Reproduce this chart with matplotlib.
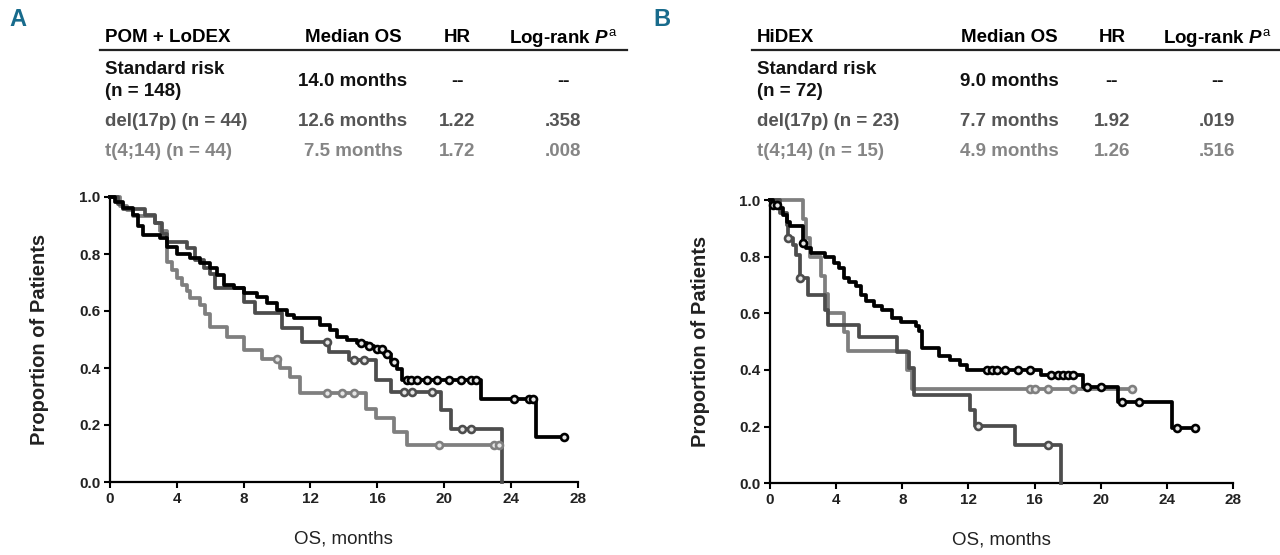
"""Kaplan-Meier OS curves by cytogenetic risk, POM + LoDEX (A) vs HiDEX (B)."""

import numpy as np
import matplotlib

matplotlib.use("Agg")
import matplotlib.pyplot as plt
from matplotlib import font_manager
from matplotlib.lines import Line2D

W, H = 1280, 555

_names = {f.name for f in font_manager.fontManager.ttflist}
FONT = "Liberation Sans Narrow" if "Liberation Sans Narrow" in _names else "Liberation Sans"
plt.rcParams["font.family"] = [FONT, "DejaVu Sans"]
plt.rcParams["mathtext.fontset"] = "custom"
plt.rcParams["mathtext.it"] = f"{FONT}:italic:bold"
plt.rcParams["mathtext.rm"] = f"{FONT}"

# ---- data ---------------------------------------------------------------
# Panel A, POM + LoDEX
a_std_t = [0.0, 0.3, 0.8, 1.4, 1.7, 2.0, 3.0, 3.4, 4.0, 4.8, 5.4, 6.0, 6.4, 6.8, 7.4, 8.0, 8.8,
           9.4, 10.0, 10.6, 11.0, 12.6, 13.2, 13.6, 14.2, 14.8, 15.4, 15.8, 16.4, 16.8, 17.2,
           17.5, 22.2, 25.5]
a_std_s = [1.0, 0.983, 0.96, 0.937, 0.90, 0.867, 0.857, 0.826, 0.80, 0.785, 0.767, 0.75, 0.726,
           0.69, 0.68, 0.663, 0.65, 0.628, 0.603, 0.586, 0.574, 0.55, 0.533, 0.51, 0.498, 0.488,
           0.478, 0.468, 0.45, 0.42, 0.395, 0.357, 0.291, 0.158]
a_std_end = 27.2
a_std_cens = [15.0, 15.5, 16.0, 16.3, 16.6, 17.0, 17.8, 18.0, 18.4, 19.0, 19.6, 20.3, 21.0,
              21.6, 21.9, 24.2, 25.1, 25.3, 27.2]

a_del_t = [0.0, 0.5, 0.8, 2.1, 2.7, 3.1, 3.4, 4.6, 5.1, 5.6, 6.0, 6.3, 8.0, 8.7, 10.3, 11.5,
           13.1, 14.3, 15.9, 16.8, 19.8, 20.4, 23.5]
a_del_s = [1.0, 0.977, 0.958, 0.937, 0.908, 0.87, 0.843, 0.82, 0.78, 0.75, 0.73, 0.68, 0.633,
           0.593, 0.54, 0.492, 0.457, 0.428, 0.357, 0.315, 0.253, 0.185, 0.0]
a_del_end = 23.5
a_del_cens = [13.0, 14.6, 15.2, 17.6, 18.1, 19.3, 21.1, 21.6]

a_t414_t = [0.0, 0.6, 1.0, 1.4, 2.7, 3.0, 3.4, 3.7, 4.0, 4.3, 4.6, 4.8, 5.4, 5.7, 6.0, 7.0, 8.0,
            9.1, 10.2, 10.8, 11.4, 15.3, 15.9, 17.0, 17.8]
a_t414_s = [1.0, 0.97, 0.955, 0.935, 0.91, 0.88, 0.773, 0.745, 0.716, 0.692, 0.67, 0.646, 0.622,
            0.59, 0.545, 0.51, 0.463, 0.432, 0.40, 0.37, 0.311, 0.255, 0.223, 0.176, 0.13]
a_t414_end = 23.3
a_t414_cens = [10.0, 13.0, 13.9, 14.6, 19.7, 23.0, 23.3]

# Panel B, HiDEX
b_std_t = [0.0, 0.2, 0.5, 0.8, 1.0, 1.2, 2.0, 2.2, 2.5, 3.3, 3.9, 4.2, 4.5, 4.8, 5.2, 5.5, 5.8,
           6.3, 6.8, 7.4, 7.9, 8.8, 9.0, 9.2, 10.2, 10.9, 11.5, 11.9, 16.4, 18.9, 21.05, 24.3]
b_std_s = [1.0, 0.983, 0.97, 0.947, 0.924, 0.907, 0.848, 0.83, 0.813, 0.80, 0.777, 0.759, 0.724,
           0.712, 0.695, 0.666, 0.642, 0.625, 0.613, 0.583, 0.571, 0.554, 0.536, 0.477, 0.448,
           0.436, 0.418, 0.40, 0.383, 0.341, 0.288, 0.194]
b_std_end = 25.7
b_std_cens = [0.2, 0.4, 2.0, 13.1, 13.4, 13.7, 14.2, 15.0, 15.7, 17.0, 17.4, 17.7, 18.0, 18.3,
              19.2, 20.0, 21.3, 22.3, 24.6, 25.7]

b_del_t = [0.0, 0.6, 1.0, 1.1, 1.4, 1.6, 1.8, 2.3, 3.3, 3.5, 5.4, 7.7, 8.4, 8.7, 12.1, 12.4,
           14.8, 17.6]
b_del_s = [1.0, 0.954, 0.913, 0.866, 0.842, 0.807, 0.725, 0.665, 0.612, 0.559, 0.515, 0.465,
           0.406, 0.312, 0.259, 0.202, 0.135, 0.0]
b_del_end = 17.6
b_del_cens = [1.1, 1.8, 12.6, 16.8]

b_t414_t = [0.0, 2.0, 2.2, 2.4, 3.1, 3.3, 3.5, 4.5, 4.7, 8.3, 8.6]
b_t414_s = [1.0, 0.933, 0.867, 0.80, 0.733, 0.667, 0.60, 0.533, 0.467, 0.40, 0.333]
b_t414_end = 21.9
b_t414_cens = [15.7, 16.0, 16.8, 18.3, 21.9]

# table contents
a_title = "POM + LoDEX"
b_title = "HiDEX"
row_labels_a = ["Standard risk\n(n = 148)", "del(17p) (n = 44)", "t(4;14) (n = 44)"]
row_labels_b = ["Standard risk\n(n = 72)", "del(17p) (n = 23)", "t(4;14) (n = 15)"]
median_a = ["14.0 months", "12.6 months", "7.5 months"]
median_b = ["9.0 months", "7.7 months", "4.9 months"]
hr_a = ["--", "1.22", "1.72"]
hr_b = ["--", "1.92", "1.26"]
p_a = ["--", ".358", ".008"]
p_b = ["--", ".019", ".516"]

x_ticks = [0, 4, 8, 12, 16, 20, 24, 28]
y_ticks = [0.0, 0.2, 0.4, 0.6, 0.8, 1.0]

BLACK, DARK, LIGHT = "#000000", "#4d4d4d", "#7f7f7f"
ROW_COLORS = ["#111111", "#555555", "#858585"]
LETTER_COLOR = "#186b8c"
TABLE_FS = 13.5


def px(x, y):
    return x / W, 1 - y / H


def step_at(t, s, x):
    t = np.asarray(t)
    idx = np.searchsorted(t, x, side="right") - 1
    return np.asarray(s)[idx]


def draw_km(ax, t, s, t_end, cens, color):
    tt = np.append(t, t_end)
    ss = np.append(s, s[-1])
    ax.step(tt, ss, where="post", color=color, lw=2.7, clip_on=False, zorder=3)
    cy = step_at(t, s, np.asarray(cens))
    ax.plot(cens, cy, "o", ms=5, mfc="#e6e6e6", mec=color, mew=1.9,
            clip_on=False, zorder=4, linestyle="none")


def style_axes(ax):
    ax.set_xlim(0, 28)
    ax.set_ylim(0, 1.0)
    for side in ("top", "right"):
        ax.spines[side].set_visible(False)
    for side in ("left", "bottom"):
        ax.spines[side].set_linewidth(1.6)
    ax.set_xticks(x_ticks)
    ax.set_yticks(y_ticks)
    ax.set_yticklabels([f"{v:.1f}" for v in y_ticks])
    ax.tick_params(direction="out", length=4, width=1.5, labelsize=11, pad=3,
                   colors="#000000", labelcolor="#222222")
    for lab in ax.get_xticklabels() + ax.get_yticklabels():
        lab.set_fontweight("bold")
    ax.set_xlabel("OS, months", fontsize=13.5, color="#222222")
    ax.set_ylabel("Proportion of Patients", fontsize=14.5, fontweight="bold", color="#222222")
    ax.xaxis.set_label_coords(0.5, -0.2)
    ax.xaxis.label.set_va("center")
    ax.yaxis.set_label_coords(-0.15, 0.5)
    ax.yaxis.label.set_va("center")


def draw_table(fig, x0, x1, cols, title, labels, medians, hrs, ps):
    kw = dict(fontsize=TABLE_FS, fontweight="bold", va="center")
    fig.text(*px(x0 + 5, 38), title, ha="left", color="#000000", **kw)
    fig.text(*px(cols[0], 38), "Median OS", ha="center", color="#000000", **kw)
    fig.text(*px(cols[1], 38), "HR", ha="center", color="#000000", **kw)
    fig.text(*px(cols[2], 38), "Log-rank $P^{\\mathrm{a}}$", ha="center", color="#000000", **kw)
    fig.add_artist(Line2D([x0 / W, x1 / W], [1 - 50 / H] * 2, color="#222222", lw=1.6))
    rows_y = [81, 122, 152]
    for i, y in enumerate(rows_y):
        c = ROW_COLORS[i]
        if i == 0:
            top, bottom = labels[i].split("\n")
            fig.text(*px(x0 + 5, 70), top, ha="left", color=c, **kw)
            fig.text(*px(x0 + 5, 91), bottom, ha="left", color=c, **kw)
        else:
            fig.text(*px(x0 + 5, y), labels[i], ha="left", color=c, **kw)
        fig.text(*px(cols[0], y), medians[i], ha="center", color=c, **kw)
        fig.text(*px(cols[1], y), hrs[i], ha="center", color=c, **kw)
        fig.text(*px(cols[2], y), ps[i], ha="center", color=c, **kw)


fig = plt.figure(figsize=(W / 100, H / 100), dpi=100)

ax_a = fig.add_axes([110 / W, 73 / H, 467.6 / W, 285 / H])
draw_km(ax_a, a_t414_t, a_t414_s, a_t414_end, a_t414_cens, LIGHT)
draw_km(ax_a, a_del_t, a_del_s, a_del_end, a_del_cens, DARK)
draw_km(ax_a, a_std_t, a_std_s, a_std_end, a_std_cens, BLACK)
style_axes(ax_a)

ax_b = fig.add_axes([770 / W, 71.7 / H, 463 / W, 283.3 / H])
draw_km(ax_b, b_t414_t, b_t414_s, b_t414_end, b_t414_cens, LIGHT)
draw_km(ax_b, b_del_t, b_del_s, b_del_end, b_del_cens, DARK)
draw_km(ax_b, b_std_t, b_std_s, b_std_end, b_std_cens, BLACK)
style_axes(ax_b)

draw_table(fig, 100, 627, [353, 457, 563], a_title, row_labels_a, median_a, hr_a, p_a)
draw_table(fig, 752, 1280, [1009, 1112, 1217], b_title, row_labels_b, median_b, hr_b, p_b)

fig.text(*px(18, 20), "A", fontsize=17, fontweight="bold", color=LETTER_COLOR,
         ha="center", va="center")
fig.text(*px(662, 20), "B", fontsize=17, fontweight="bold", color=LETTER_COLOR,
         ha="center", va="center")

fig.savefig("out.png", dpi=100, facecolor="white")
